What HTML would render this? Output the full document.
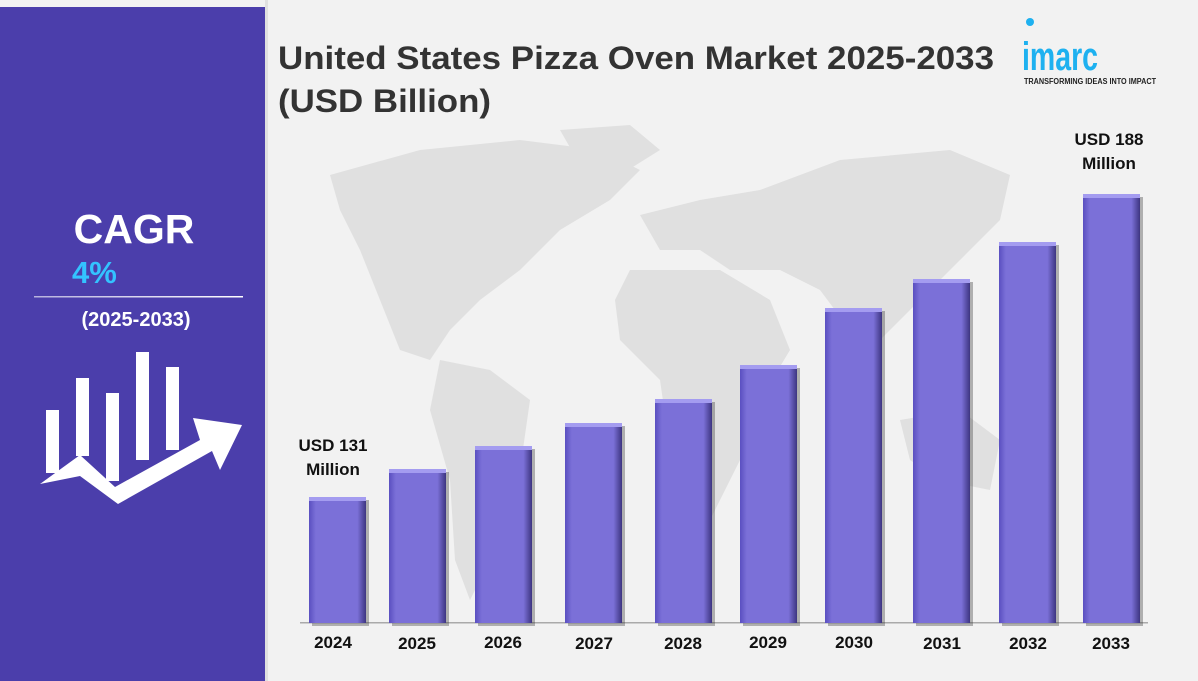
<!DOCTYPE html>
<html><head><meta charset="utf-8"><style>
html,body{margin:0;padding:0;background:#f2f2f2}
svg{display:block}
text{font-family:"Liberation Sans",sans-serif}
</style></head><body>
<svg width="1198" height="681" viewBox="0 0 1198 681" xmlns="http://www.w3.org/2000/svg">
<defs>
<linearGradient id="bg" x1="0" x2="1" y1="0" y2="0">
<stop offset="0" stop-color="#5a4fc0"/><stop offset="0.12" stop-color="#7b70d8"/><stop offset="0.85" stop-color="#7b70d8"/><stop offset="1" stop-color="#3d3580"/>
</linearGradient>
<linearGradient id="ln" x1="0" x2="1"><stop offset="0" stop-color="#fff" stop-opacity=".6"/><stop offset="1" stop-color="#fff"/></linearGradient>
</defs>
<rect width="1198" height="681" fill="#f2f2f2"/>
<rect x="0" y="7" width="265" height="674" fill="#4b3eab"/>
<rect x="265" y="0" width="3" height="681" fill="#e0e0e0"/>
<!-- map silhouette -->
<g fill="#e0e0e0">
<path d="M330 175 L420 150 L520 140 L600 150 L640 170 L610 200 L560 230 L520 270 L480 300 L450 330 L430 360 L400 350 L380 300 L360 250 L340 210 Z"/>
<path d="M560 130 L630 125 L660 150 L620 175 L580 165 Z"/>
<path d="M440 360 L490 370 L530 400 L520 470 L490 560 L470 600 L455 560 L450 480 L430 410 Z"/>
<path d="M640 215 L700 200 L760 190 L840 160 L950 150 L1010 175 L1000 220 L960 260 L920 300 L880 340 L850 330 L820 290 L780 270 L730 270 L700 250 L660 250 Z"/>
<path d="M630 270 L720 270 L770 300 L790 350 L760 400 L740 460 L710 520 L690 520 L670 450 L660 380 L620 340 L615 300 Z"/>
<path d="M900 420 L960 410 L1000 440 L990 490 L940 480 L910 460 Z"/>
</g>
<!-- title -->
<text x="278" y="69" font-size="32" font-weight="bold" fill="#333" textLength="716" lengthAdjust="spacingAndGlyphs">United States Pizza Oven Market 2025-2033</text>
<text x="278" y="112" font-size="32" font-weight="bold" fill="#333" textLength="213" lengthAdjust="spacingAndGlyphs">(USD Billion)</text>
<!-- logo -->
<circle cx="1030" cy="22" r="4" fill="#1eb1f0"/>
<text x="1022" y="70" font-size="40" font-weight="bold" fill="#1eb1f0" textLength="76" lengthAdjust="spacingAndGlyphs">imarc</text>
<text x="1024" y="84" font-size="8" font-weight="bold" fill="#222" textLength="132" lengthAdjust="spacingAndGlyphs">TRANSFORMING IDEAS INTO IMPACT</text>
<!-- left panel -->
<text x="134" y="243" font-size="41" font-weight="bold" fill="#fff" text-anchor="middle">CAGR</text>
<text x="72" y="283" font-size="31" font-weight="bold" fill="#33c3ff">4%</text>
<rect x="34" y="296" width="209" height="1.5" fill="url(#ln)"/>
<text x="136" y="326" font-size="20" font-weight="bold" fill="#fff" text-anchor="middle">(2025-2033)</text>
<g fill="#fff">
<rect x="46" y="410" width="13" height="63"/>
<rect x="76" y="378" width="13" height="78"/>
<rect x="106" y="393" width="13" height="88"/>
<rect x="136" y="352" width="13" height="108"/>
<rect x="166" y="367" width="13" height="83"/>
<path d="M40 484 L80 455 L115 487 L200 440 L193 418 L242 425 L220 470 L212 451 L118 504 L80 476 Z"/>
</g>
<!-- axis -->
<rect x="300" y="622" width="848" height="1.5" fill="#aaa"/>
<!-- bars -->
<g>
<g transform="translate(309,497)"><rect x="3" y="3" width="57" height="126" fill="#333" opacity=".35"/><rect width="57" height="126" fill="url(#bg)"/><rect width="57" height="4" fill="#a49cf0"/></g>
<g transform="translate(389,469)"><rect x="3" y="3" width="57" height="154" fill="#333" opacity=".35"/><rect width="57" height="154" fill="url(#bg)"/><rect width="57" height="4" fill="#a49cf0"/></g>
<g transform="translate(475,446)"><rect x="3" y="3" width="57" height="177" fill="#333" opacity=".35"/><rect width="57" height="177" fill="url(#bg)"/><rect width="57" height="4" fill="#a49cf0"/></g>
<g transform="translate(565,423)"><rect x="3" y="3" width="57" height="200" fill="#333" opacity=".35"/><rect width="57" height="200" fill="url(#bg)"/><rect width="57" height="4" fill="#a49cf0"/></g>
<g transform="translate(655,399)"><rect x="3" y="3" width="57" height="224" fill="#333" opacity=".35"/><rect width="57" height="224" fill="url(#bg)"/><rect width="57" height="4" fill="#a49cf0"/></g>
<g transform="translate(740,365)"><rect x="3" y="3" width="57" height="258" fill="#333" opacity=".35"/><rect width="57" height="258" fill="url(#bg)"/><rect width="57" height="4" fill="#a49cf0"/></g>
<g transform="translate(825,308)"><rect x="3" y="3" width="57" height="315" fill="#333" opacity=".35"/><rect width="57" height="315" fill="url(#bg)"/><rect width="57" height="4" fill="#a49cf0"/></g>
<g transform="translate(913,279)"><rect x="3" y="3" width="57" height="344" fill="#333" opacity=".35"/><rect width="57" height="344" fill="url(#bg)"/><rect width="57" height="4" fill="#a49cf0"/></g>
<g transform="translate(999,242)"><rect x="3" y="3" width="57" height="381" fill="#333" opacity=".35"/><rect width="57" height="381" fill="url(#bg)"/><rect width="57" height="4" fill="#a49cf0"/></g>
<g transform="translate(1083,194)"><rect x="3" y="3" width="57" height="429" fill="#333" opacity=".35"/><rect width="57" height="429" fill="url(#bg)"/><rect width="57" height="4" fill="#a49cf0"/></g>
</g>
<g font-size="17" font-weight="bold" fill="#111" text-anchor="middle">
<text x="333" y="648">2024</text>
<text x="417" y="649">2025</text>
<text x="503" y="648">2026</text>
<text x="594" y="649">2027</text>
<text x="683" y="649">2028</text>
<text x="768" y="648">2029</text>
<text x="854" y="648">2030</text>
<text x="942" y="649">2031</text>
<text x="1028" y="649">2032</text>
<text x="1111" y="649">2033</text>
<text x="333" y="451">USD 131</text>
<text x="333" y="475">Million</text>
<text x="1109" y="145">USD 188</text>
<text x="1109" y="169">Million</text>
</g>
</svg>
</body></html>
